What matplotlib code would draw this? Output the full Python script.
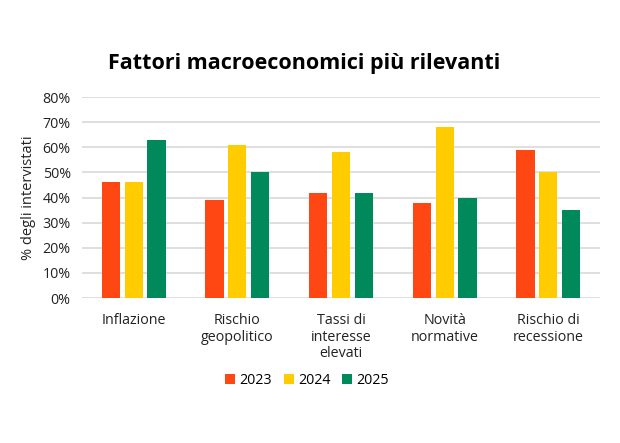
import matplotlib.pyplot as plt
import numpy as np
from matplotlib.ticker import FuncFormatter

categories = ['Inflazione', 'Rischio\ngeopolitico', 'Tassi di\ninteresse\nelevati',
              'Novità\nnormative', 'Rischio di\nrecessione']
years = ['2023', '2024', '2025']
values_2023 = [46, 39, 42, 38, 59]
values_2024 = [46, 61, 58, 68, 50]
values_2025 = [63, 50, 42, 40, 35]
colors = ['#FF4713', '#FFCC00', '#008A5B']

plt.rcParams['font.family'] = ['Open Sans', 'DejaVu Sans']

fig = plt.figure(figsize=(6.2, 4.43), dpi=100)
ax = fig.add_axes([0.132, 0.327, 0.836, 0.454])

x = np.arange(len(categories))
width = 0.175
step = 0.22
for i, (vals, year) in enumerate(zip([values_2023, values_2024, values_2025], years)):
    ax.bar(x + (i - 1) * step, vals, width, color=colors[i], label=year, zorder=3)

ax.set_xlim(-0.5, len(categories) - 0.5)
ax.set_ylim(0, 80)
ax.set_yticks(np.arange(0, 81, 10))
ax.yaxis.set_major_formatter(FuncFormatter(lambda v, p: f'{v:.0f}%'))
ax.set_xticks(x)
ax.set_xticklabels(categories, fontsize=10.3, color='#222222', linespacing=1.1)
ax.tick_params(axis='both', length=0, colors='#222222', labelsize=10.3)
ax.tick_params(axis='x', pad=11)
ax.tick_params(axis='y', pad=8)
ax.grid(True, axis='y', color='#d9d9d9', linewidth=1.2, zorder=0)
for s in ax.spines.values():
    s.set_visible(False)

ax.set_ylabel('% degli intervistati', fontsize=10.5, color='#222222', labelpad=5)

fig.text(0.49, 0.857, 'Fattori macroeconomici più rilevanti', ha='center', va='center',
         fontsize=15.5, fontweight='bold', color='#000000')

fig.legend(loc='center', bbox_to_anchor=(0.495, 0.14), ncol=3, frameon=False,
           fontsize=10.3, handlelength=0.7, handleheight=0.7, handletextpad=0.3,
           columnspacing=0.8)

fig.savefig('out.png', dpi=100, facecolor='white')
